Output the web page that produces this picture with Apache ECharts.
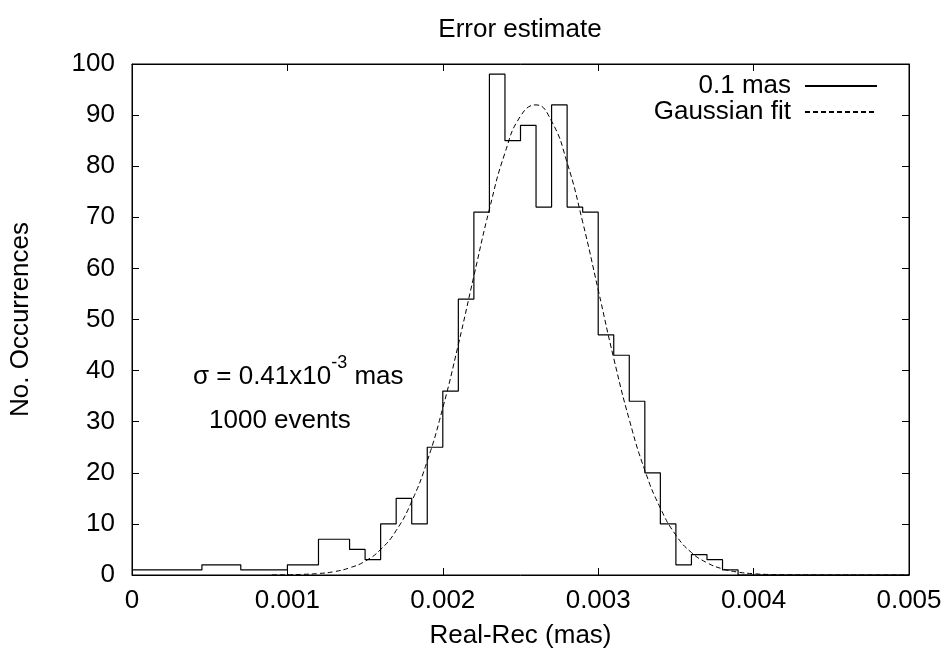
<!DOCTYPE html>
<html>
<head>
<meta charset="utf-8">
<script src="https://cdn.jsdelivr.net/npm/echarts@6/dist/echarts.min.js"></script>
<style>
html,body{margin:0;padding:0;background:#fff;}
#chart{width:951px;height:656px;}
</style>
</head>
<body>
<div id="chart"></div>
<script>
// Histogram bin edges (mas) and counts per bin
var binEdges = [0, 0.00045, 0.0007, 0.001, 0.0012, 0.0014, 0.0015, 0.0016, 0.0017, 0.0018, 0.0019,
  0.0020, 0.0021, 0.0022, 0.0023, 0.0024, 0.0025, 0.0026, 0.0027, 0.0028, 0.0029,
  0.0030, 0.0031, 0.0032, 0.0033, 0.0034, 0.0035, 0.0036, 0.0037, 0.0038, 0.0039, 0.005];
var binCounts = [1, 2, 1, 2, 7, 5, 3, 10, 15, 10, 25,
  36, 54, 71, 98, 85, 88, 72, 92, 72, 71,
  47, 43, 34, 20, 10, 2, 4, 3, 1, 0];

// Gaussian fit curve
var gaussX = [0.0009, 0.0010, 0.0011, 0.0012, 0.0013, 0.0014, 0.0015, 0.0016, 0.0017, 0.0018, 0.0019,
  0.0020, 0.0021, 0.0022, 0.0023, 0.0024, 0.0025, 0.0026, 0.0027, 0.0028, 0.0029,
  0.0030, 0.0031, 0.0032, 0.0033, 0.0034, 0.0035, 0.0036, 0.0037, 0.0038, 0.0039,
  0.0040, 0.0041, 0.0042, 0.0044, 0.0047, 0.0050];
var gaussY = [0.02, 0.05, 0.13, 0.29, 0.65, 1.4, 2.7, 5.0, 8.7, 14.4, 22.3,
  32.7, 45.1, 58.5, 71.6, 82.6, 89.8, 92.0, 88.8, 80.7, 69.1,
  55.8, 42.4, 30.4, 20.5, 13.1, 7.8, 4.4, 2.4, 1.2, 0.56,
  0.25, 0.1, 0.04, 0.01, 0, 0];

var xTicks = [0, 0.001, 0.002, 0.003, 0.004, 0.005];
var yTicks = [0, 10, 20, 30, 40, 50, 60, 70, 80, 90, 100];

var histName = '0.1 mas';
var fitName = 'Gaussian fit';
var titleText = 'Error estimate';
var xName = 'Real-Rec (mas)';
var yName = 'No. Occurrences';

// build step points from bins
var histData = [];
for (var i = 0; i < binCounts.length; i++) histData.push([binEdges[i], binCounts[i]]);
histData.push([binEdges[binEdges.length - 1], binCounts[binCounts.length - 1]]);
var gaussData = gaussX.map(function (x, i) { return [x, gaussY[i]]; });

var FONT = '"Liberation Sans", Arial, Helvetica, sans-serif';
var FS = 26;

function fmtX(v) {
  if (Math.abs(v) < 1e-12) return '0';
  return v.toFixed(3);
}

var chart = echarts.init(document.getElementById('chart'), null, {renderer: 'canvas'});
var axisCommon = {
  axisLine: {show: true, onZero: false, lineStyle: {color: '#000', width: 1}},
  axisTick: {show: true, inside: true, length: 7, lineStyle: {color: '#000', width: 1}},
  splitLine: {show: false}
};
chart.setOption({
  animation: false,
  backgroundColor: '#fff',
  textStyle: {fontFamily: FONT},
  title: {
    text: titleText, left: 520, top: 17, textAlign: 'center', padding: 0,
    textStyle: {fontFamily: FONT, fontSize: FS, fontWeight: 'normal', color: '#000'}
  },
  grid: {left: 131, right: 42, top: 64, bottom: 81, show: true, borderColor: '#000', borderWidth: 1},
  legend: {
    orient: 'vertical', right: 73, top: 73, align: 'right', itemGap: 0,
    itemWidth: 72, itemHeight: 4,
    padding: 0,
    itemStyle: {opacity: 0},
    textStyle: {fontFamily: FONT, fontSize: FS, color: '#000', lineHeight: 26, padding: [0, 9, 0, 0]},
    data: [histName, fitName]
  },
  xAxis: [
    Object.assign({
      type: 'value', min: 0, max: 0.005, interval: 0.001, position: 'bottom',
      name: xName, nameLocation: 'middle', nameGap: 48,
      nameTextStyle: {fontFamily: FONT, fontSize: FS, color: '#000'},
      axisLabel: {fontFamily: FONT, fontSize: FS, color: '#000', margin: 13, formatter: fmtX}
    }, axisCommon),
    Object.assign({
      type: 'value', min: 0, max: 0.005, interval: 0.001, position: 'top',
      axisLabel: {show: false}
    }, axisCommon)
  ],
  yAxis: [
    Object.assign({
      type: 'value', min: 0, max: 100, interval: 10, position: 'left',
      name: yName, nameLocation: 'middle', nameGap: 98, nameRotate: 90,
      nameTextStyle: {fontFamily: FONT, fontSize: FS, color: '#000'},
      axisLabel: {fontFamily: FONT, fontSize: FS, color: '#000', margin: 17}
    }, axisCommon),
    Object.assign({
      type: 'value', min: 0, max: 100, interval: 10, position: 'right',
      axisLabel: {show: false}
    }, axisCommon)
  ],
  series: [
    {
      name: histName, type: 'line', step: 'end', data: histData,
      xAxisIndex: 0, yAxisIndex: 0, symbol: 'none', showSymbol: false,
      lineStyle: {color: '#000', width: 1.2}, itemStyle: {color: '#000'}, z: 3
    },
    {
      name: fitName, type: 'line', smooth: true, data: gaussData,
      xAxisIndex: 0, yAxisIndex: 0, symbol: 'none', showSymbol: false,
      lineStyle: {color: '#000', width: 1, type: [5, 3]}, itemStyle: {color: '#000'}, z: 2
    }
  ],
  graphic: [
    {
      type: 'text', left: 193, top: 354, silent: true,
      style: {
        text: '{a|σ = 0.41x10}{s|-3}{a| mas}',
        rich: {
          a: {fontFamily: FONT, fontSize: FS, color: '#000', lineHeight: 36, verticalAlign: 'bottom'},
          s: {fontFamily: FONT, fontSize: 18, color: '#000', lineHeight: 18, verticalAlign: 'top'}
        }
      }
    },
    {
      type: 'text', left: 209, top: 408, silent: true,
      style: {text: '1000 events', fontFamily: FONT, fontSize: FS, fill: '#000'}
    }
  ]
});
</script>
</body>
</html>
